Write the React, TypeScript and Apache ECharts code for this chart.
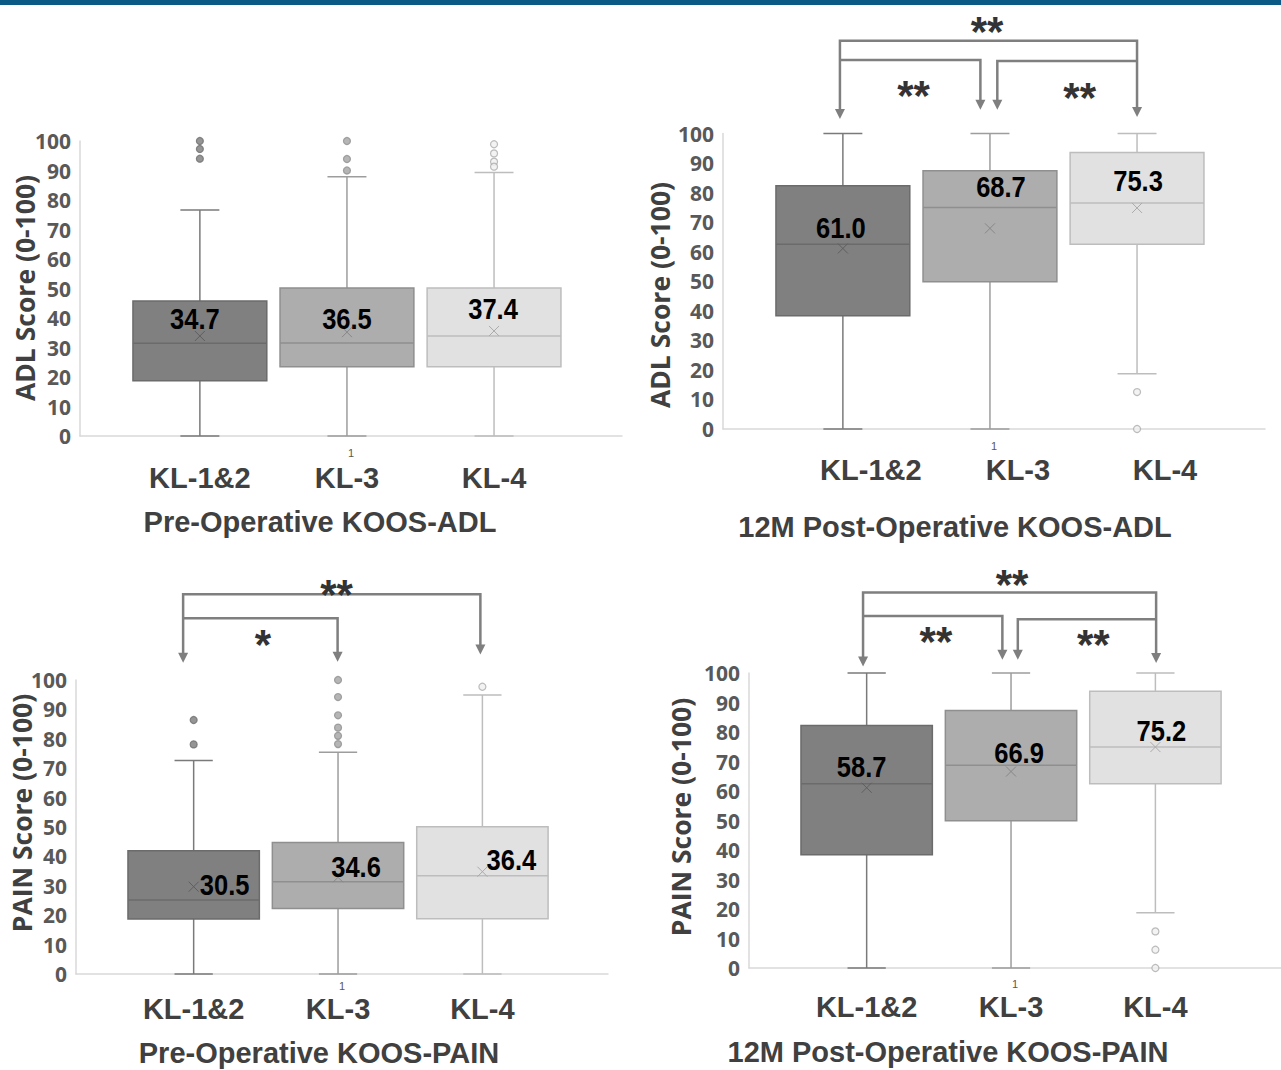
import React, { useEffect, useRef } from 'react';
import * as echarts from 'echarts';

// ---------- DATA ----------
const groups = ['KL-1&2', 'KL-3', 'KL-4'];
const subCategory = ['1'];

// box stats: [min whisker, Q1, median, Q3, max whisker]
const preAdlBoxes = [
  [0, 18.7, 31.4, 45.8, 76.6],
  [0, 23.5, 31.5, 50.2, 87.9],
  [0, 23.5, 33.9, 50.2, 89.3],
];
const preAdlMeans = [33.9, 35.2, 35.6];
const preAdlMeanLabels = ['34.7', '36.5', '37.4'];
const preAdlOutliers = [[100, 97.3, 94.0], [100, 93.9, 90.0], [98.9, 95.8, 93.0, 91.3]];

const postAdlBoxes = [
  [0, 38.3, 62.5, 82.3, 100],
  [0, 49.8, 75.0, 87.4, 100],
  [18.7, 62.5, 76.5, 93.6, 100],
];
const postAdlMeans = [61.1, 67.9, 74.8];
const postAdlMeanLabels = ['61.0', '68.7', '75.3'];
const postAdlOutliers = [[], [], [12.5, 0]];

const prePainBoxes = [
  [0, 18.7, 25.2, 41.9, 72.6],
  [0, 22.3, 31.4, 44.7, 75.4],
  [0, 18.8, 33.4, 50.1, 94.9],
];
const prePainMeans = [29.7, 32.9, 34.8];
const prePainMeanLabels = ['30.5', '34.6', '36.4'];
const prePainOutliers = [[86.4, 78.1], [100, 94.2, 88.0, 83.8, 81.0, 78.2], [97.7]];

const postPainBoxes = [
  [0, 38.4, 62.5, 82.2, 100],
  [0, 49.9, 68.7, 87.3, 100],
  [18.7, 62.5, 74.9, 93.8, 100],
];
const postPainMeans = [61.1, 66.6, 74.9];
const postPainMeanLabels = ['58.7', '66.9', '75.2'];
const postPainOutliers = [[], [], [12.4, 6.2, 0]];

// significance brackets (group positions 1..3, score units above the axis)
const preAdlBrackets: any[] = [];
const postAdlBrackets = [
  { from: 0.98, to: 3.0, level: 131.4, tipFrom: 104.9, tipTo: 105.6, mark: '**', markAt: [1.98, 137.8] },
  { from: 0.98, to: 1.935, level: 124.9, tipFrom: null, tipTo: 108.0, mark: '**', markAt: [1.48, 116.2] },
  { from: 2.05, to: 3.0, level: 124.5, tipFrom: 108.0, tipTo: null, mark: '**', markAt: [2.61, 115.6] },
];
const prePainBrackets = [
  { from: 0.927, to: 2.986, level: 129.2, tipFrom: 105.9, tipTo: 108.7, mark: '**', markAt: [1.99, 132.5] },
  { from: 0.927, to: 1.997, level: 121.0, tipFrom: null, tipTo: 106.2, mark: '*', markAt: [1.48, 115.6] },
];
const postPainBrackets = [
  { from: 0.975, to: 3.005, level: 127.3, tipFrom: 102.2, tipTo: 103.4, mark: '**', markAt: [2.007, 133.3] },
  { from: 0.975, to: 1.94, level: 119.3, tipFrom: null, tipTo: 104.5, mark: '**', markAt: [1.48, 113.9] },
  { from: 2.047, to: 3.005, level: 118.2, tipFrom: 104.5, tipTo: null, mark: '**', markAt: [2.57, 113.0] },
];

const panels = [
  { boxes: preAdlBoxes, means: preAdlMeans, meanLabels: preAdlMeanLabels, outliers: preAdlOutliers, brackets: preAdlBrackets, title: 'Pre-Operative KOOS-ADL', yTitle: 'ADL Score (0-100)' },
  { boxes: postAdlBoxes, means: postAdlMeans, meanLabels: postAdlMeanLabels, outliers: postAdlOutliers, brackets: postAdlBrackets, title: '12M Post-Operative KOOS-ADL', yTitle: 'ADL Score (0-100)' },
  { boxes: prePainBoxes, means: prePainMeans, meanLabels: prePainMeanLabels, outliers: prePainOutliers, brackets: prePainBrackets, title: 'Pre-Operative KOOS-PAIN', yTitle: 'PAIN Score (0-100)' },
  { boxes: postPainBoxes, means: postPainMeans, meanLabels: postPainMeanLabels, outliers: postPainOutliers, brackets: postPainBrackets, title: '12M Post-Operative KOOS-PAIN', yTitle: 'PAIN Score (0-100)' },
];

// ---------- LAYOUT / STYLE ----------
const LAYOUT = [
  { grid: { left: 80, top: 141, width: 542, height: 295 }, labelShift: 0, labelMargin: 27, subMargin: 11, titleXY: [320, 522], yTitleXY: [25, 288], meanOffsets: [[-5, -17], [0, -13], [-1, -22]] },
  { grid: { left: 723, top: 133.5, width: 542, height: 295.5 }, labelShift: 0.19, labelMargin: 26, subMargin: 11, titleXY: [955, 527], yTitleXY: [660, 295], meanOffsets: [[-2, -21], [11, -41], [1, -27]] },
  { grid: { left: 76, top: 680, width: 532, height: 294 }, labelShift: 0, labelMargin: 20, subMargin: 6, titleXY: [319, 1053], yTitleXY: [22, 813], meanOffsets: [[31, -2], [18, -10], [29, -12]] },
  { grid: { left: 749, top: 673, width: 538, height: 295 }, labelShift: 0, labelMargin: 24, subMargin: 10, titleXY: [948, 1052], yTitleXY: [681, 817], meanOffsets: [[-5, -21], [8, -19], [6, -16]] },
];
const X_MIN = 0.185;
const X_MAX = 3.87;
const BOX_W = 0.91;
const CAP_W = 0.265;
const BOX_STYLES = [
  { fill: '#808080', stroke: '#6b6b6b', whisker: '#7a7a7a', mean: '#5f5f5f', outFill: '#7a7a7a', outStroke: '#6e6e6e' },
  { fill: '#adadad', stroke: '#8f8f8f', whisker: '#9d9d9d', mean: '#878787', outFill: '#a3a3a3', outStroke: '#8f8f8f' },
  { fill: '#e1e1e1', stroke: '#bdbdbd', whisker: '#bdbdbd', mean: '#ababab', outFill: '#f0f0f0', outStroke: '#ababab' },
];
const AXIS_GRAY = '#d9d9d9';
const TICK_FONT = "'Open Sans', 'DejaVu Sans', sans-serif";
const CAT_FONT = "'Liberation Sans', Arial, sans-serif";

function makeBoxRender(layout: any) {
  return (params: any, api: any) => {
    const k = params.dataIndex;
    const x = api.value(0);
    const mn = api.value(1), q1 = api.value(2), md = api.value(3), q3 = api.value(4), mx = api.value(5), mean = api.value(6);
    const pMin = api.coord([x, mn]);
    const cx = pMin[0];
    const yMin = pMin[1];
    const yQ1 = api.coord([x, q1])[1];
    const yMd = api.coord([x, md])[1];
    const yQ3 = api.coord([x, q3])[1];
    const yMax = api.coord([x, mx])[1];
    const half = api.size([BOX_W, 0])[0] / 2;
    const capHalf = api.size([CAP_W, 0])[0] / 2;
    const s = BOX_STYLES[k];
    const m = api.coord([x, mean]);
    const off = layout.meanOffsets[k];
    const xs = 5;
    return {
      type: 'group',
      children: [
        { type: 'line', shape: { x1: cx, y1: yQ1, x2: cx, y2: yMin }, style: { stroke: s.whisker, lineWidth: 1.5 } },
        { type: 'line', shape: { x1: cx, y1: yQ3, x2: cx, y2: yMax }, style: { stroke: s.whisker, lineWidth: 1.5 } },
        { type: 'line', shape: { x1: cx - capHalf, y1: yMin, x2: cx + capHalf, y2: yMin }, style: { stroke: s.whisker, lineWidth: 1.5 } },
        { type: 'line', shape: { x1: cx - capHalf, y1: yMax, x2: cx + capHalf, y2: yMax }, style: { stroke: s.whisker, lineWidth: 1.5 } },
        { type: 'rect', shape: { x: cx - half, y: yQ3, width: half * 2, height: yQ1 - yQ3 }, style: { fill: s.fill, stroke: s.stroke, lineWidth: 1.5 } },
        { type: 'line', shape: { x1: cx - half, y1: yMd, x2: cx + half, y2: yMd }, style: { stroke: s.stroke, lineWidth: 1.5 } },
        { type: 'line', shape: { x1: m[0] - xs, y1: m[1] - xs, x2: m[0] + xs, y2: m[1] + xs }, style: { stroke: s.mean, lineWidth: 1 } },
        { type: 'line', shape: { x1: m[0] - xs, y1: m[1] + xs, x2: m[0] + xs, y2: m[1] - xs }, style: { stroke: s.mean, lineWidth: 1 } },
        {
          type: 'text',
          x: m[0] + off[0],
          y: m[1] + off[1],
          scaleX: 0.88,
          style: {
            text: layout.meanText[k],
            fill: '#000',
            fontSize: 29,
            fontWeight: 'bold',
            fontFamily: CAT_FONT,
            align: 'center',
            verticalAlign: 'middle',
          },
        },
      ],
    };
  };
}

function makeBracketRender(brackets: any[]) {
  return (params: any, api: any) => {
    const b = brackets[params.dataIndex];
    const children: any[] = [];
    const pts: number[][] = [];
    const ah = 10;
    const aw = 5;
    if (b.tipFrom != null) {
      const t = api.coord([b.from, b.tipFrom]);
      pts.push([t[0], t[1] - ah + 1]);
      children.push({ type: 'polygon', shape: { points: [[t[0] - aw, t[1] - ah], [t[0] + aw, t[1] - ah], [t[0], t[1]]] }, style: { fill: '#7f7f7f' } });
    }
    pts.push(api.coord([b.from, b.level]));
    pts.push(api.coord([b.to, b.level]));
    if (b.tipTo != null) {
      const t = api.coord([b.to, b.tipTo]);
      pts.push([t[0], t[1] - ah + 1]);
      children.push({ type: 'polygon', shape: { points: [[t[0] - aw, t[1] - ah], [t[0] + aw, t[1] - ah], [t[0], t[1]]] }, style: { fill: '#7f7f7f' } });
    }
    children.unshift({ type: 'polyline', shape: { points: pts }, style: { stroke: '#7f7f7f', lineWidth: 2.5, fill: 'none' } });
    const mp = api.coord(b.markAt);
    children.push({
      type: 'text',
      x: mp[0],
      y: mp[1] + 10,
      style: { text: b.mark, fill: '#333', fontSize: 42, fontWeight: 'bold', fontFamily: CAT_FONT, align: 'center', verticalAlign: 'middle' },
    });
    return { type: 'group', children };
  };
}

function buildOption() {
  const grid: any[] = [];
  const xAxis: any[] = [];
  const yAxis: any[] = [];
  const series: any[] = [];
  const graphic: any[] = [
    { type: 'rect', shape: { x: 0, y: 0, width: 1281, height: 5 }, style: { fill: '#0b5a85' } },
  ];

  panels.forEach((p, i) => {
    const L: any = { ...LAYOUT[i], meanText: p.meanLabels };
    grid.push({ ...L.grid, containLabel: false });
    const custom = [1, 2, 3].map((v) => v + L.labelShift);
    xAxis.push({
      type: 'value',
      gridIndex: i,
      min: X_MIN,
      max: X_MAX,
      position: 'bottom',
      axisLine: { show: true, onZero: false, lineStyle: { color: AXIS_GRAY, width: 1.5 } },
      axisTick: { show: false },
      splitLine: { show: false },
      axisLabel: {
        show: true,
        customValues: custom,
        margin: L.labelMargin,
        formatter: (val: number) => groups[Math.round(val - L.labelShift) - 1] ?? '',
        fontFamily: CAT_FONT,
        fontWeight: 'bold',
        fontSize: 29,
        color: '#404040',
      },
    });
    xAxis.push({
      type: 'category',
      gridIndex: i,
      data: subCategory,
      position: 'bottom',
      axisLine: { show: false },
      axisTick: { show: false },
      splitLine: { show: false },
      axisLabel: { margin: L.subMargin, fontSize: 11, color: '#595959', fontFamily: CAT_FONT },
    });
    yAxis.push({
      type: 'value',
      gridIndex: i,
      min: 0,
      max: 100,
      interval: 10,
      axisLine: { show: true, lineStyle: { color: AXIS_GRAY, width: 1.5 } },
      axisTick: { show: false },
      splitLine: { show: false },
      axisLabel: { margin: 9, fontFamily: TICK_FONT, fontWeight: 'bold', fontSize: 21, color: '#595959' },
    });

    series.push({
      type: 'custom',
      xAxisIndex: i * 2,
      yAxisIndex: i,
      clip: false,
      silent: true,
      renderItem: makeBoxRender(L),
      data: p.boxes.map((b, k) => [k + 1, ...b, p.means[k]]),
      z: 2,
    });
    series.push({
      type: 'scatter',
      xAxisIndex: i * 2,
      yAxisIndex: i,
      silent: true,
      symbol: 'circle',
      symbolSize: 7,
      z: 3,
      data: p.outliers.flatMap((vals, k) =>
        vals.map((v) => ({
          value: [k + 1, v],
          itemStyle: { color: BOX_STYLES[k].outFill, borderColor: BOX_STYLES[k].outStroke, borderWidth: 1.2 },
        }))
      ),
    });
    if (p.brackets.length) {
      series.push({
        type: 'custom',
        xAxisIndex: i * 2,
        yAxisIndex: i,
        clip: false,
        silent: true,
        renderItem: makeBracketRender(p.brackets),
        data: p.brackets.map((b: any) => [b.from, b.level]),
        z: 4,
      });
    }

    graphic.push({
      type: 'text',
      x: L.titleXY[0],
      y: L.titleXY[1],
      style: { text: p.title, fill: '#404040', fontSize: 29, fontWeight: 'bold', fontFamily: CAT_FONT, align: 'center', verticalAlign: 'middle' },
    });
    graphic.push({
      type: 'text',
      x: L.yTitleXY[0],
      y: L.yTitleXY[1],
      rotation: Math.PI / 2,
      style: { text: p.yTitle, fill: '#404040', fontSize: 26.5, fontWeight: 'bold', fontFamily: TICK_FONT, align: 'center', verticalAlign: 'middle' },
    });
  });

  return { animation: false, backgroundColor: '#ffffff', grid, xAxis, yAxis, series, graphic };
}

export default function App() {
  const ref = useRef<HTMLDivElement>(null);
  useEffect(() => {
    if (!ref.current) return;
    const chart = echarts.init(ref.current, undefined, { renderer: 'svg' });
    chart.setOption(buildOption() as any);
    return () => chart.dispose();
  }, []);
  return (
    <div
      ref={ref}
      style={{ position: 'absolute', left: 0, top: 0, width: 1281, height: 1070, background: '#fff' }}
    />
  );
}
